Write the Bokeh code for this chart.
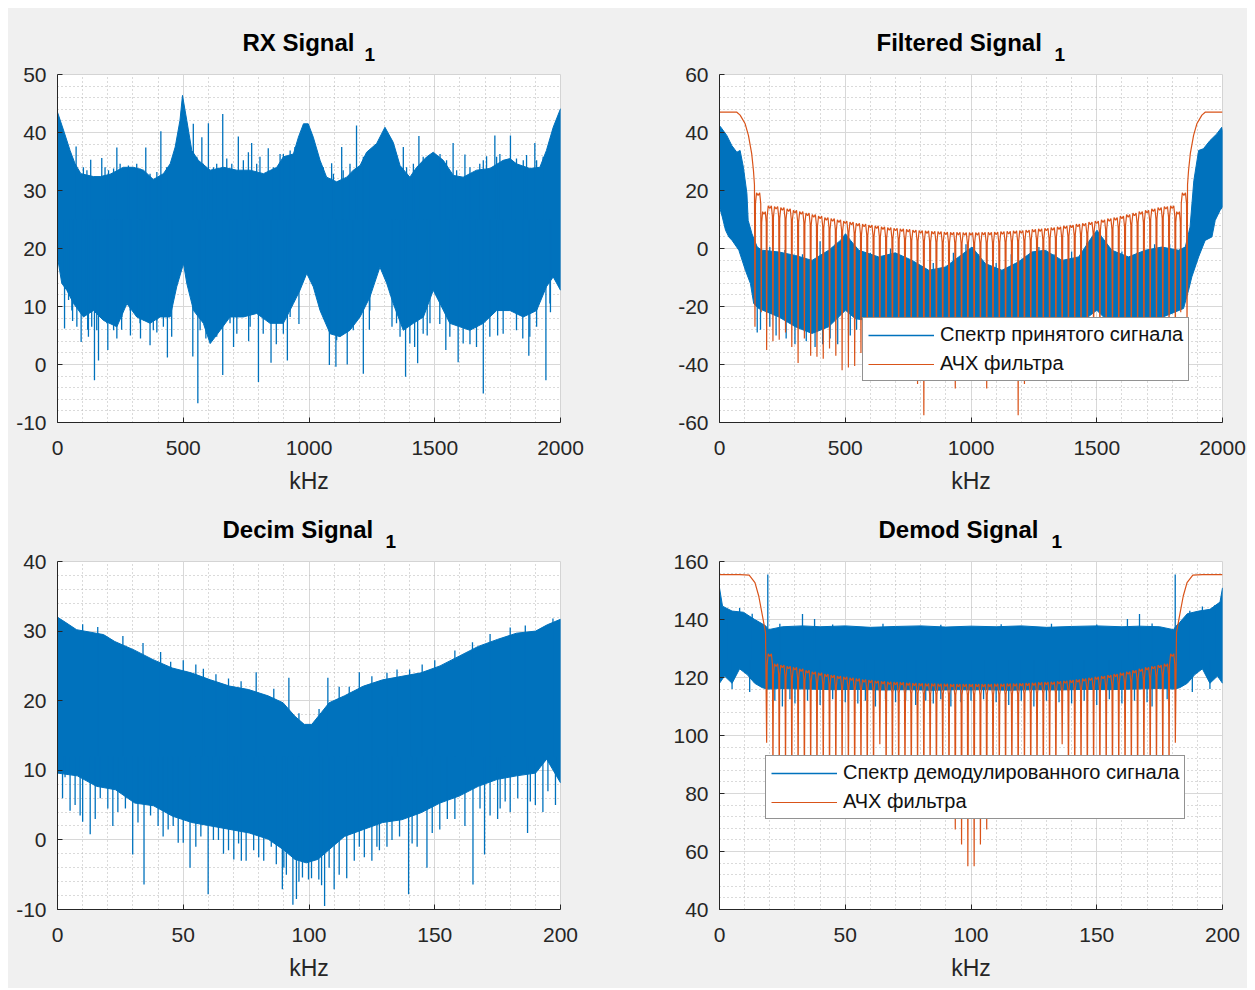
from bokeh.plotting import figure
from bokeh.models import (Range1d, SingleIntervalTicker, Title, Legend, LegendItem,
                          CustomJSTickFormatter)
from bokeh.layouts import gridplot
from bokeh.embed import file_html
from bokeh.resources import INLINE

BLUE = "#0072BD"
ORANGE = "#D95319"
AX = "#262626"
FONT = "Liberation Sans"
BG = "#f0f0f0"

# ---------------- RX Signal (panel 1) ----------------
rx_up_x = [0, 24, 50, 70, 93, 143, 170, 209, 262, 302, 342, 381, 421, 448, 468, 487, 497, 514, 534, 560,
           607, 660, 713, 766, 819, 872, 898, 938, 958, 978, 997, 1017, 1044, 1070, 1110, 1150, 1176, 1203,
           1229, 1269, 1302, 1335, 1362, 1401, 1428, 1468, 1494, 1534, 1574, 1613, 1666, 1719, 1772, 1799,
           1825, 1878, 1918, 1944, 1971, 2000]
rx_up_y = [43.5, 40.4, 36.9, 34.6, 32.9, 32.4, 32.4, 32.8, 34.0, 34.0, 33.5, 31.9, 32.9, 34.6, 37.5, 42.1,
           46.4, 42.1, 36.9, 35.2, 33.5, 34.0, 33.5, 33.5, 32.9, 34.0, 35.8, 36.3, 39.2, 41.5, 41.5, 39.2,
           35.2, 32.3, 31.5, 32.3, 33.5, 34.3, 36.6, 38.1, 40.9, 38.3, 34.3, 32.3, 34.0, 35.8, 36.6, 35.2,
           32.6, 32.3, 33.5, 33.8, 35.2, 35.5, 34.6, 33.8, 34.0, 36.9, 40.9, 44.1]
rx_lo_x = [0, 17, 37, 64, 103, 143, 183, 236, 276, 315, 368, 408, 448, 474, 501, 514, 541, 580, 607, 647,
           686, 739, 792, 845, 898, 938, 964, 991, 1017, 1044, 1084, 1123, 1163, 1203, 1242, 1282, 1309,
           1335, 1375, 1415, 1455, 1494, 1521, 1560, 1600, 1640, 1693, 1746, 1799, 1852, 1905, 1944, 1971,
           2000]
rx_lo_y = [18.5, 14.0, 12.8, 10.5, 8.2, 9.3, 7.6, 6.5, 10.5, 8.2, 7.1, 8.2, 8.2, 13.4, 17.4, 14.0, 9.3,
           7.1, 3.6, 5.9, 8.2, 8.2, 8.8, 7.1, 7.1, 10.5, 12.8, 15.7, 13.4, 9.3, 5.3, 4.8, 5.9, 8.2, 11.6,
           16.8, 14.0, 10.5, 5.9, 7.1, 8.2, 12.8, 10.5, 7.1, 6.5, 5.9, 7.1, 9.3, 9.3, 8.2, 9.3, 13.4, 15.1,
           12.8]
rx_spk_up_x = [74, 132, 176, 236, 351, 411, 540, 574, 600, 657, 719, 772, 838, 885, 1090, 1130, 1189, 1375,
               1437, 1573, 1620, 1706, 1739, 1801, 1898,
               103, 117, 189, 203, 223, 249, 282, 315, 328, 368, 395, 434, 554, 580, 620, 633, 673, 693,
               739, 759, 792, 805, 858, 898, 925, 944, 1057, 1097, 1136, 1163, 1216, 1242, 1348, 1388,
               1415, 1454, 1521, 1547, 1587, 1640, 1679, 1693, 1746, 1759, 1825, 1852, 1865, 1905, 1931]
rx_spk_up_y = [37.6, 35.3, 35.6, 37.4, 37.4, 40.2, 41.5, 39.2, 41.6, 43.2, 39.3, 38.2, 37.3, 36.3, 34.7,
               37.5, 41.2, 37.5, 39.4, 38.2, 36.2, 35.9, 39.5, 39.5, 38.2,
               34.0, 33.5, 34.0, 33.5, 33.8, 34.6, 34.3, 34.6, 33.8, 32.9, 33.2, 34.0, 35.8, 34.6, 34.0,
               34.6, 35.5, 34.6, 35.2, 36.6, 34.6, 35.8, 34.0, 36.3, 36.9, 37.5, 34.0, 32.9, 33.5, 34.6,
               35.8, 36.9, 35.8, 34.0, 34.6, 35.8, 36.3, 35.2, 33.5, 34.0, 34.6, 35.2, 35.8, 36.3, 35.5,
               35.2, 36.1, 35.2, 35.8]
rx_spk_dn_x = [28, 60, 94, 120, 147, 163, 200, 236, 255, 290, 330, 368, 395, 437, 538, 558, 590, 657, 700,
               760, 799, 849, 870, 914, 960, 1081, 1107, 1152, 1216, 1240, 1330, 1384, 1420, 1432, 1470,
               1520, 1544, 1593, 1640, 1693, 1750, 1850, 1874, 1942, 1960,
               44, 57, 77, 110, 123, 136, 156, 183, 196, 209, 223, 256, 289, 315, 328, 342, 381, 395, 421,
               454, 567, 593, 633, 686, 713, 766, 818, 871, 898, 925, 1110, 1136, 1176, 1242, 1348, 1362,
               1401, 1454, 1481, 1560, 1613, 1666, 1719, 1772, 1825, 1878, 1905, 1958]
rx_spk_dn_y = [6.2, 7.5, 3.9, 6.0, -2.7, 0.7, 2.5, 4.5, 6.0, 5.0, 4.5, 3.3, 5.5, 1.2, 1.4, -6.7, 4.5, -1.8,
               3.0, 4.0, -3.0, 0.3, 3.5, 0.7, 7.0, -0.1, -0.4, 0.0, -1.6, 6.0, 6.5, -2.1, 3.0, 0.2, 5.0,
               7.0, 2.5, 0.4, 3.5, -5.0, 5.0, 4.5, 1.5, -2.7, 9.0,
               11.1, 9.3, 6.5, 9.3, 4.8, 6.5, 5.9, 9.3, 7.1, 7.1, 5.9, 8.2, 9.3, 8.2, 7.1, 7.6, 5.9, 7.6,
               6.5, 4.8, 5.9, 5.3, 4.8, 7.1, 5.3, 6.5, 5.3, 7.1, 5.3, 8.2, 4.2, 5.3, 5.9, 9.3, 7.1, 4.8,
               3.6, 5.3, 7.1, 4.8, 3.6, 3.0, 4.8, 5.3, 5.9, 4.8, 6.5, 10.5]

# ---------------- Filtered Signal (panel 2) ----------------
fl_up_x = [0, 3, 29, 49, 69, 82, 95, 109, 114, 129, 150, 170, 236, 302, 368, 434, 481, 501, 521, 554, 633,
           699, 766, 832, 898, 951, 1004, 1057, 1123, 1189, 1242, 1295, 1362, 1428, 1481, 1501, 1520, 1560,
           1626, 1693, 1759, 1825, 1852, 1871, 1886, 1905, 1924, 1950, 1977, 1997, 2000]
fl_up_y = [40.7, 42.1, 39, 35.5, 33.2, 33.8, 28, 19, 9.7, 5.1, 0.5, -0.6, -1.2, -2.4, -4.1, -0.6, 2.8, 5.1,
           2.8, -0.6, -2.9, -1.5, -4.1, -7.5, -6.4, -2.9, 0.5, -5.2, -7.5, -4.6, -1.2, -0.6, -4.1, -2.9, 4.0,
           6.3, 4.0, -0.6, -2.9, -0.6, 0.5, -0.6, 0.5, 7.4, 23.4, 33.8, 34.4, 37.2, 39.5, 41.8, 40.7]
fl_lo_x = [0, 11, 24, 37, 50, 77, 103, 123, 136, 156, 236, 302, 368, 434, 501, 540, 600, 700, 800, 900,
           1000, 1100, 1200, 1300, 1400, 1460, 1500, 1566, 1632, 1698, 1764, 1845, 1865, 1878, 1905, 1931,
           1958, 1971, 1990, 2000]
fl_lo_y = [14.3, 10.9, 6.3, 4.0, 2.8, -0.6, -7.5, -12.1, -19, -20.7, -23.6, -27, -29.3, -27, -21.3, -24.2,
           -25, -24, -25, -24, -25, -24, -25, -24, -25, -24, -21.3, -27, -29.3, -27, -23.6, -20.7, -14.4,
           -9.8, -2.9, 2.8, 4.0, 9.7, 13.1, 14.3]
fl_spk_up_x = [200, 260, 330, 400, 460, 600, 680, 730, 850, 930, 980, 1030, 1100, 1160, 1270, 1330, 1400,
               1460, 1540, 1600, 1660, 1730, 1790]
fl_spk_up_y = [0.5, -0.5, -2, 2.5, 1.5, -1.5, 0, -3, -5, -1.5, 1.5, -2, -5, -2, 0.5, -2, -1, 2, 1.5, -1,
               -1.5, 1.5, 1.5]
fl_spk_dn_x = [150, 163, 200, 225, 265, 300, 345, 380, 410, 440, 470, 520, 545]
fl_spk_dn_y = [-29, -28, -27, -30, -31, -33, -32, -34, -33, -31, -33, -30, -28]

# filter response (АЧХ) for panel 2
f2_pass_x = [0, 40, 69, 82, 102, 115, 128, 135, 139]
f2_pass_y = [47, 47, 47, 46, 43, 39, 32.7, 26.9, 22]
f2_null_x = [141, 166, 187.5, 212.5, 237.5, 262.5, 287.5, 312.5, 337.5, 362.5, 387.5, 412.5,
             437.5, 462.5, 487.5, 512.5, 537.5, 562.5, 587.5, 612.5, 637.5, 662.5, 687.5, 712.5,
             737.5, 762.5, 787.5, 812.5, 837.5, 862.5, 887.5, 912.5, 937.5, 962.5, 987.5, 1012.5,
             1037.5, 1062.5, 1087.5, 1112.5, 1137.5, 1162.5, 1187.5, 1212.5, 1237.5, 1262.5, 1287.5, 1312.5,
             1337.5, 1362.5, 1387.5, 1412.5, 1437.5, 1462.5, 1487.5, 1512.5, 1537.5, 1562.5, 1587.5, 1612.5,
             1637.5, 1662.5, 1687.5, 1712.5, 1737.5, 1762.5, 1787.5, 1812.5, 1834, 1859]
f2_null_y = [-27, -22, -35, -32, -31.5, -29, -34, -39.5, -31, -37, -37.3, -38,
             -34.5, -37, -42, -41, -40.5, -36, -38, -35, -40, -36, -42, -38,
             -40, -37, -46.7, -57.5, -40, -38, -43, -38, -48.3, -41, -39, -39,
             -41, -48.3, -38, -43, -38, -40, -57.5, -46.7, -37, -40, -38, -42,
             -36, -40, -35, -38, -36, -40.5, -41, -42, -37, -34.5, -38, -37.3,
             -37, -31, -39.5, -34, -29, -31.5, -32, -35, -22, -27]
f2_lobe_y = [19.5, 13, 15, 14.8, 14.4, 14.0, 13.5, 13.0, 12.5, 12.0, 11.5, 11.0, 10.6, 10.2, 9.8, 9.4, 9.0,
             8.7, 8.4, 8.1, 7.8, 7.5, 7.3, 7.1, 6.9, 6.7, 6.5, 6.4, 6.2, 6.1, 6.0, 5.9, 5.9, 5.8, 5.8,
             5.8, 5.9, 5.9, 6.0, 6.1, 6.2, 6.4, 6.5, 6.7, 6.9, 7.1, 7.3, 7.5, 7.8, 8.1, 8.4, 8.7, 9.0, 9.4,
             9.8, 10.2, 10.6, 11.0, 11.5, 12.0, 12.5, 13.0, 13.5, 14.0, 14.4, 14.8, 15, 13, 19.5]
f2_tail_x = [1861, 1865, 1872, 1885, 1898, 1918, 1931, 1960, 2000]
f2_tail_y = [22, 26.9, 32.7, 39, 43, 46, 47, 47, 47]

# ---------------- Decim Signal (panel 3) ----------------
dc_up_x = [0, 3.0, 7.6, 13.7, 18.3, 22.8, 30.4, 38.0, 45.6, 53.2, 60.8, 68.4, 76.0, 83.7, 89.7, 94.3, 98.1,
           101.1, 104.9, 108.0, 114.1, 121.7, 129.3, 136.9, 144.5, 152.1, 159.7, 167.3, 174.9, 182.5, 190.1,
           194.7, 200]
dc_up_y = [32.0, 31.3, 30.2, 29.8, 29.5, 28.5, 27.3, 25.9, 24.7, 24.0, 23.0, 22.1, 21.6, 20.7, 19.7, 17.8,
           16.6, 16.6, 18.3, 19.7, 20.7, 22.1, 23.0, 23.5, 24.0, 25.0, 26.4, 27.8, 28.8, 29.7, 30.0, 30.9,
           31.7]
dc_lo_x = [0, 7.9, 15.5, 23.1, 30.7, 38.2, 45.8, 53.4, 61.0, 68.6, 76.2, 83.8, 89.8, 94.4, 98.9, 103.5,
           108.0, 114.1, 121.7, 129.3, 136.9, 144.5, 152.1, 159.7, 167.3, 174.9, 182.5, 190.1, 194.5, 200]
dc_lo_y = [9.6, 9.2, 7.7, 7.2, 5.3, 4.9, 3.4, 2.5, 2.0, 1.5, 1.0, 0.1, -1.4, -2.8, -3.3, -2.8, -1.4, 0.5,
           1.5, 2.5, 2.9, 3.9, 5.3, 6.3, 7.7, 8.7, 9.2, 9.6, 11.6, 8.2]
dc_spk_up_x = [45, 58, 63, 79, 86, 92, 107.5, 112, 120, 131, 140, 150,
               10, 16, 26, 34, 41, 50, 55, 68, 73, 96, 104, 116, 125, 135, 145, 158, 165, 172, 180, 186, 197]
dc_spk_up_y = [25.6, 24.6, 23.8, 24.1, 21.7, 23.3, 23.3, 22.0, 24.1, 24.0, 24.5, 25.8,
               31.0, 30.6, 29.3, 28.3, 27.0, 25.8, 25.2, 23.2, 22.8, 18.2, 18.8, 22.0, 23.5, 24.5, 25.2,
               27.2, 28.4, 29.6, 30.5, 30.8, 31.8]
dc_spk_dn_x = [5, 10, 13, 20, 24, 29.9, 34.4, 40, 44, 48, 52.7, 57, 59.9, 64, 66, 70.1, 73.1, 78, 82, 85,
               89.4, 91, 93.6, 95, 97.4, 99.8, 103.9, 106.2, 110, 115, 118, 122, 125, 128, 133, 139.6, 143,
               146.9, 152, 158, 165.2, 169.8, 172, 176, 180, 186.9, 190, 195,
               2, 3, 7, 9, 15, 17, 22, 27, 32, 37, 42, 46, 50, 55, 62, 68, 72, 75, 80, 87, 90, 96, 101, 105,
               108, 112, 120, 127, 131, 136, 141, 149, 155, 162, 168, 175, 178, 183, 188, 193, 198]
dc_spk_dn_y = [4.2, 2.6, 0.8, 4.5, 4.0, -2.1, -6.4, 2.0, 1.5, -0.4, -4.0, 0.5, -7.8, 0.0, -2.0, -2.8, -3.0,
               -1.5, -3.0, -1.0, -7.1, -5.0, -9.3, -8.5, -5.4, -5.7, -5.7, -9.5, -7.1, -5.5, -3.0, -2.5,
               -3.0, -1.5, 0.0, -7.8, -1.0, -4.0, 1.5, 3.0, -6.4, -2.1, 3.5, 4.5, 4.0, 1.0, 5.0, 7.0,
               6.0, 9.0, 5.0, 3.5, 3.0, 6.0, 2.0, 4.5, 2.5, 3.5, 0.5, 2.0, -0.4, -1.0, 0.0, -1.5, -0.5,
               -3.0, -2.5, -3.5, -4.0, -6.0, -5.5, -6.5, -4.0, -5.0, -1.0, -1.0, -1.0, 0.5, -0.5, 1.0, 3.0,
               2.0, 4.5, 3.0, 5.5, 6.0, 5.5, 4.0, 5.0]

# ---------------- Demod Signal (panel 4) ----------------
dm_up_x = [0, 1.2, 5, 9.5, 14, 17, 18.5, 19.5, 25, 33, 40, 50, 60, 70, 80, 90, 100, 110, 120, 130, 140,
           150, 160, 167, 175, 180.5, 181.5, 183, 186, 190.5, 195, 199, 200]
dm_up_y = [150.9, 144.6, 142.9, 142.5, 140, 138.5, 137.7, 136.5, 137.5, 137.8, 137.5, 137.8, 137.3, 137.6,
           137.8, 137.4, 137.7, 137.5, 137.8, 137.3, 137.6, 137.8, 137.5, 137.7, 137.5, 136.5, 137.7, 139,
           142, 142.9, 143.5, 146, 150.9]
dm_lo_x = [0, 2, 5, 8, 11, 14, 17, 19, 25, 35, 45, 55, 65, 75, 85, 95, 100, 105, 115, 125, 135, 145, 155,
           165, 175, 181, 183, 186, 189, 192, 195, 198, 200]
dm_lo_y = [118, 120.5, 118, 123, 121, 118, 116.5, 116, 116.2, 116, 115.8, 115.9, 115.7, 115.8, 115.6, 115.8,
           115.7, 115.8, 115.6, 115.8, 115.7, 115.9, 115.8, 116, 116.2, 116, 116.5, 118, 121, 123, 118,
           120.5, 118]
dm_spk_up_x = [19.2, 181.2, 33, 37.8, 162.2, 167,
               24, 45, 65, 88, 112, 132, 150, 172, 3, 8, 13, 187, 192, 197]
dm_spk_up_y = [155.5, 155.5, 141.9, 140.2, 140.2, 141.9,
               138.5, 138.3, 138.5, 138.2, 138.4, 138.5, 138.3, 138.6, 143.5, 144, 142, 143, 144.5, 145]
dm_spk_dn_x = [5, 12, 25, 30, 40, 55, 62, 70, 78, 85, 92, 115, 125, 140, 150, 160, 172, 188, 195,
               22, 28, 35, 45, 50, 58, 66, 74, 82, 88, 96, 100, 105, 110, 120, 130, 135, 145, 155, 165,
               170, 178]
dm_spk_dn_y = [116, 115, 110, 111, 110.5, 111, 110, 111.5, 110.5, 111, 110, 110.5, 110, 111, 110.5, 111,
               110, 115, 116,
               112, 112.5, 112, 112.5, 111.5, 112, 112.5, 112, 112, 112.5, 111.5, 112, 112.5, 111.5, 112,
               112, 111.5, 112, 112.5, 112, 111.5, 112.5]

# filter response (АЧХ) for panel 4
f4_pass_x = [0, 8, 11.8, 14.1, 15.6, 17.1, 18.3]
f4_pass_y = [155.5, 155.5, 155.3, 152.7, 148.1, 141.2, 135.5]
f4_null_x = [18.75, 21.25, 23.75, 26.25, 28.75, 31.25, 33.75, 36.25, 38.75, 41.25, 43.75, 46.25,
             48.75, 51.25, 53.75, 56.25, 58.75, 61.25, 63.75, 66.25, 68.75, 71.25, 73.75, 76.25,
             78.75, 81.25, 83.75, 86.25, 88.75, 91.25, 93.75, 96.25, 98.75, 101.25, 103.75, 106.25,
             108.75, 111.25, 113.75, 116.25, 118.75, 121.25, 123.75, 126.25, 128.75, 131.25, 133.75, 136.25,
             138.75, 141.25, 143.75, 146.25, 148.75, 151.25, 153.75, 156.25, 158.75, 161.25, 163.75, 166.25,
             168.75, 171.25, 173.75, 176.25, 178.75, 181.25]
f4_null_y = [97.5, 85, 83, 86, 82, 84, 80, 85, 82, 86, 81, 84,
             83, 85, 80, 86, 82, 84, 97, 83, 85, 81, 84, 82,
             86, 80, 84, 82, 85, 80, 67.6, 62.4, 54.9, 54.9, 62.4, 67.6,
             80, 85, 82, 84, 80, 86, 82, 84, 81, 85, 83, 97,
             84, 82, 86, 80, 85, 83, 84, 81, 86, 82, 85, 80,
             84, 82, 86, 83, 85, 97.5]
f4_lobe_y = [128.5, 125, 124.6, 124.2, 123.8, 123.3, 122.8, 122.3, 121.9, 121.5, 121.1, 120.8, 120.5, 120.2,
             119.9, 119.6, 119.4, 119.2, 119.0, 118.8, 118.7, 118.6, 118.5, 118.4, 118.3, 118.2, 118.2,
             118.1, 118.1, 118.0, 118.0, 118.0, 118.0,
             118.0, 118.0, 118.0, 118.1, 118.1, 118.2, 118.2, 118.3, 118.4, 118.5, 118.6, 118.7, 118.8,
             119.0, 119.2, 119.4, 119.6, 119.9, 120.2, 120.5, 120.8, 121.1, 121.5, 121.9, 122.3, 122.8,
             123.3, 123.8, 124.2, 124.6, 125, 128.5]
f4_tail_x = [181.7, 182.9, 184.4, 185.9, 188.2, 192, 200]
f4_tail_y = [135.5, 141.2, 148.1, 152.7, 155.3, 155.5, 155.5]

LOBE_SHAPE = [(0.08, 4.0), (0.25, 0.3), (0.5, 1.2), (0.75, 0.3), (0.92, 4.0)]


def comb_line(pass_x, pass_y, null_x, null_y, lobe_y, tail_x, tail_y):
    xs = list(pass_x)
    ys = list(pass_y)
    n = len(null_x)
    for i in range(n):
        xs.append(null_x[i])
        ys.append(null_y[i])
        if i < n - 1:
            a = null_x[i]
            w = null_x[i + 1] - a
            t = lobe_y[i]
            for f, d in LOBE_SHAPE:
                xs.append(a + f * w)
                ys.append(t - d)
    xs += list(tail_x)
    ys += list(tail_y)
    return xs, ys


def make_fig(xmax, xint, ymin, ymax, yint, width, height, bl, br, bt, bb):
    p = figure(width=width, height=height, x_range=Range1d(0, xmax), y_range=Range1d(ymin, ymax),
               output_backend="svg", toolbar_location=None, tools="",
               min_border_left=bl, min_border_right=br, min_border_top=bt, min_border_bottom=bb)
    p.title.visible = False
    p.border_fill_color = BG
    p.background_fill_color = "white"
    p.outline_line_color = "#d4d4d4"
    p.xaxis.ticker = SingleIntervalTicker(interval=xint, num_minor_ticks=5)
    p.yaxis.ticker = SingleIntervalTicker(interval=yint, num_minor_ticks=5)
    p.yaxis.formatter = CustomJSTickFormatter(code="return String(tick);")
    for ax in (p.xaxis[0], p.yaxis[0]):
        ax.axis_line_color = AX
        ax.axis_line_width = 1
        ax.major_tick_line_color = AX
        ax.major_tick_in = 5
        ax.major_tick_out = 0
        ax.minor_tick_in = 0
        ax.minor_tick_out = 0
        ax.major_label_text_font = FONT
        ax.major_label_text_font_size = "21px"
        ax.major_label_text_color = AX
    p.xaxis.major_label_standoff = 18
    p.yaxis.major_label_standoff = 11
    p.xaxis.axis_label = "kHz"
    p.xaxis.axis_label_text_font = FONT
    p.xaxis.axis_label_text_font_size = "23px"
    p.xaxis.axis_label_text_font_style = "normal"
    p.xaxis.axis_label_text_color = AX
    p.xaxis.axis_label_standoff = 10
    p.grid.grid_line_color = "#d8d8d8"
    p.grid.grid_line_width = 1
    p.grid.minor_grid_line_color = "#b4b4b4"
    p.grid.minor_grid_line_dash = "1 3"
    return p


def add_title(p, text, main_off, sub_off):
    p.add_layout(Title(text="1", align="left", offset=sub_off, standoff=28,
                       text_font=FONT, text_font_size="19px", text_font_style="bold",
                       text_color="black"), "above")
    p.add_layout(Title(text=text, align="left", offset=main_off, standoff=-49,
                       text_font=FONT, text_font_size="24px", text_font_style="bold",
                       text_color="black"), "above")


def draw_body(p, ux, uy, lx, ly):
    xs = list(ux) + list(lx)[::-1]
    ys = list(uy) + list(ly)[::-1]
    p.patch(xs, ys, fill_color=BLUE, line_color=BLUE, line_width=1)


def draw_spikes(p, sx, sy, base):
    p.segment(x0=sx, y0=[base] * len(sx), x1=sx, y1=sy, line_color=BLUE, line_width=1.3)


def add_legend(p, labels, r_orange, loc, ymin):
    proxy = p.line(x=[0, 1], y=[ymin - 1000, ymin - 1000], line_color=BLUE, line_width=1.5)
    leg = Legend(items=[LegendItem(label=labels[0], renderers=[proxy]),
                        LegendItem(label=labels[1], renderers=[r_orange])],
                 location=loc)
    leg.label_text_font = FONT
    leg.label_text_font_size = "20px"
    leg.label_text_color = "#111111"
    leg.border_line_color = AX
    leg.border_line_width = 1
    leg.background_fill_color = "white"
    leg.background_fill_alpha = 1.0
    leg.glyph_width = 66
    leg.glyph_height = 20
    leg.label_height = 20
    leg.label_standoff = 6
    leg.padding = 5
    leg.spacing = 6
    leg.margin = 0
    p.add_layout(leg)


# panel 1
p1 = make_fig(2000, 500, -10, 50, 10, 628, 493, 49, 76, 66, 79)
draw_body(p1, rx_up_x, rx_up_y, rx_lo_x, rx_lo_y)
draw_spikes(p1, rx_spk_up_x, rx_spk_up_y, 25)
draw_spikes(p1, rx_spk_dn_x, rx_spk_dn_y, 25)
add_title(p1, "RX Signal", 185, 307)

# panel 2
p2 = make_fig(2000, 500, -60, 60, 20, 611, 493, 83, 25, 66, 79)
draw_body(p2, fl_up_x, fl_up_y, fl_lo_x, fl_lo_y)
draw_spikes(p2, fl_spk_up_x, fl_spk_up_y, -10)
draw_spikes(p2, fl_spk_dn_x, fl_spk_dn_y, -10)
cx2, cy2 = comb_line(f2_pass_x, f2_pass_y, f2_null_x, f2_null_y, f2_lobe_y, f2_tail_x, f2_tail_y)
r2 = p2.line(cx2, cy2, line_color=ORANGE, line_width=1.2)
add_title(p2, "Filtered Signal", 157, 335)
add_legend(p2, ["Спектр принятого сигнала", "АЧХ фильтра"], r2, (143, 41), -60)

# panel 3
p3 = make_fig(200, 50, -10, 40, 10, 628, 487, 49, 76, 60, 79)
draw_body(p3, dc_up_x, dc_up_y, dc_lo_x, dc_lo_y)
draw_spikes(p3, dc_spk_up_x, dc_spk_up_y, 12)
draw_spikes(p3, dc_spk_dn_x, dc_spk_dn_y, 12)
add_title(p3, "Decim Signal", 165, 328)

# panel 4
p4 = make_fig(200, 50, 40, 160, 20, 611, 487, 83, 25, 60, 79)
draw_body(p4, dm_up_x, dm_up_y, dm_lo_x, dm_lo_y)
draw_spikes(p4, dm_spk_up_x, dm_spk_up_y, 126)
draw_spikes(p4, dm_spk_dn_x, dm_spk_dn_y, 126)
cx4, cy4 = comb_line(f4_pass_x, f4_pass_y, f4_null_x, f4_null_y, f4_lobe_y, f4_tail_x, f4_tail_y)
r4 = p4.line(cx4, cy4, line_color=ORANGE, line_width=1.2)
add_title(p4, "Demod Signal", 159, 332)
add_legend(p4, ["Спектр демодулированного сигнала", "АЧХ фильтра"], r4, (46, 90), 40)

grid = gridplot([[p1, p2], [p3, p4]], toolbar_location=None)
grid.margin = (8, 0, 0, 8)
grid.styles = {"background-color": BG}

open("out.html", "w").write(file_html(grid, INLINE))
